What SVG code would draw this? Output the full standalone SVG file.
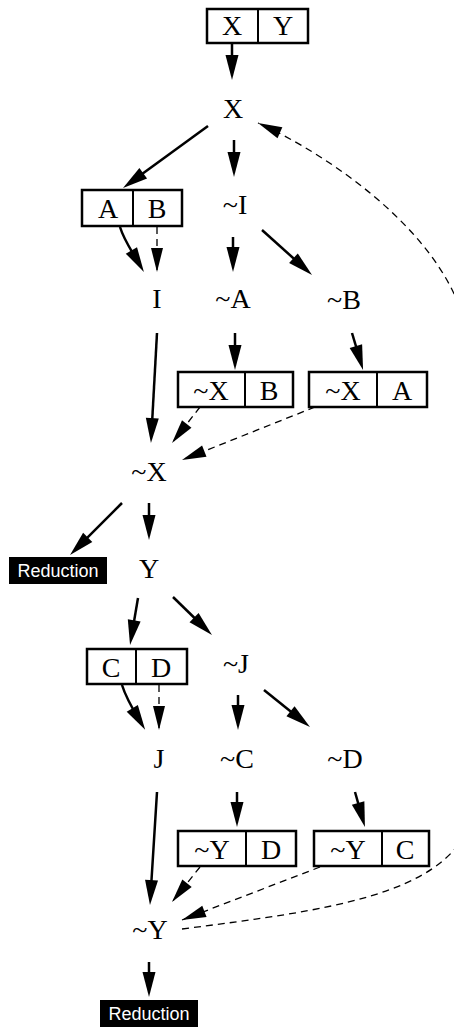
<svg xmlns="http://www.w3.org/2000/svg" width="454" height="1028" viewBox="0 0 454 1028">
<style>
.t{font-family:"Liberation Serif","Times New Roman",serif;font-size:28px;fill:#000;text-anchor:middle}
.box{fill:#fff;stroke:#000;stroke-width:2.5}
.div{stroke:#000;stroke-width:2}
.red{fill:#000}
.rt{font-family:"Liberation Sans",Arial,sans-serif;font-size:18px;fill:#fff;text-anchor:middle}
.s{fill:none;stroke:#000;stroke-width:2.5;marker-end:url(#ah)}
.d{fill:none;stroke:#000;stroke-width:1.3;stroke-dasharray:7,5;marker-end:url(#ahd)}
</style>
<defs>
<marker id="ah" markerUnits="userSpaceOnUse" markerWidth="25" markerHeight="13" refX="15" refY="6.5" orient="auto" overflow="visible">
<path d="M0,0 L25,6.5 L0,13 Z" fill="#000"/>
</marker>
<marker id="ahd" markerUnits="userSpaceOnUse" markerWidth="24" markerHeight="12" refX="24" refY="6" orient="auto" overflow="visible">
<path d="M0,0 L24,6 L0,12 Z" fill="#000"/>
</marker>
</defs>

<g id="connectors">
<path class="s" d="M232,43 L232,70"/>
<path class="s" d="M208,126 L131.1,182.1"/>
<path class="s" d="M234,140 L234,167"/>
<path class="s" d="M120,227 C124,240 130,248 138.9,263.4"/>
<path class="d" d="M157,227 L157,272"/>
<path class="s" d="M233,237 L233,262"/>
<path class="s" d="M262,230 L304.6,268.3"/>
<path class="s" d="M157,333 L151.5,433"/>
<path class="s" d="M235,333 L235,360"/>
<path class="s" d="M352,333 L360.2,360.4"/>
<path class="d" d="M200,407 L172,443"/>
<path class="d" d="M315,407 L182,460"/>
<path class="s" d="M122,503 L77.1,547.9"/>
<path class="s" d="M149,503 L149,530"/>
<path class="s" d="M138,598 L131.7,635.1"/>
<path class="s" d="M173,597 L204.8,628"/>
<path class="s" d="M122,685 C126,698 132,708 140,721.3"/>
<path class="d" d="M159,685 L159,730"/>
<path class="s" d="M238,695 L238,720"/>
<path class="s" d="M264,690 L302.2,720.7"/>
<path class="s" d="M157,792 L150.6,895"/>
<path class="s" d="M237,792 L237,817"/>
<path class="s" d="M355,792 L362.2,817.4"/>
<path class="d" d="M200,867 L172,902"/>
<path class="d" d="M320,867 L182,920"/>
<path class="s" d="M149,962 L149,987"/>
<path class="d" d="M182,929 C330,910 440,895 470,825 C485,790 481,440 468,340 C455,240 330,155 258,123"/>
</g>

<g id="box-XY">
<rect class="box" x="207" y="9" width="101" height="34"/>
<line class="div" x1="258" y1="9" x2="258" y2="43"/>
<text class="t" x="232" y="35">X</text>
<text class="t" x="283" y="35">Y</text>
</g>
<g id="node-X"><text class="t" x="233" y="118">X</text></g>

<g id="box-AB">
<rect class="box" x="82" y="190" width="100" height="36"/>
<line class="div" x1="133" y1="190" x2="133" y2="226"/>
<text class="t" x="108" y="218">A</text>
<text class="t" x="157" y="218">B</text>
</g>
<g id="node-notI"><text class="t" x="235" y="214">~I</text></g>
<g id="node-I"><text class="t" x="157" y="308">I</text></g>
<g id="node-notA"><text class="t" x="233" y="308">~A</text></g>
<g id="node-notB"><text class="t" x="344" y="309">~B</text></g>

<g id="box-notX-B">
<rect class="box" x="178" y="372" width="115" height="35"/>
<line class="div" x1="245" y1="372" x2="245" y2="407"/>
<text class="t" x="211" y="400">~X</text>
<text class="t" x="269" y="400">B</text>
</g>
<g id="box-notX-A">
<rect class="box" x="309" y="372" width="118" height="35"/>
<line class="div" x1="377" y1="372" x2="377" y2="407"/>
<text class="t" x="343" y="400">~X</text>
<text class="t" x="402" y="400">A</text>
</g>
<g id="node-notX"><text class="t" x="149" y="481">~X</text></g>

<g id="reduction-1">
<rect class="red" x="9" y="557" width="98" height="27"/>
<text class="rt" x="58" y="577">Reduction</text>
</g>
<g id="node-Y"><text class="t" x="149" y="578">Y</text></g>

<g id="box-CD">
<rect class="box" x="87" y="649" width="100" height="35"/>
<line class="div" x1="136" y1="649" x2="136" y2="684"/>
<text class="t" x="111" y="677">C</text>
<text class="t" x="161" y="677">D</text>
</g>
<g id="node-notJ"><text class="t" x="236" y="673">~J</text></g>
<g id="node-J"><text class="t" x="159" y="768">J</text></g>
<g id="node-notC"><text class="t" x="237" y="768">~C</text></g>
<g id="node-notD"><text class="t" x="345" y="768">~D</text></g>

<g id="box-notY-D">
<rect class="box" x="178" y="831" width="118" height="35"/>
<line class="div" x1="246" y1="831" x2="246" y2="866"/>
<text class="t" x="212" y="859">~Y</text>
<text class="t" x="271" y="859">D</text>
</g>
<g id="box-notY-C">
<rect class="box" x="314" y="831" width="115" height="35"/>
<line class="div" x1="382" y1="831" x2="382" y2="866"/>
<text class="t" x="348" y="859">~Y</text>
<text class="t" x="405" y="859">C</text>
</g>
<g id="node-notY"><text class="t" x="150" y="939">~Y</text></g>

<g id="reduction-2">
<rect class="red" x="100" y="1000" width="98" height="27"/>
<text class="rt" x="149" y="1020">Reduction</text>
</g>
</svg>
